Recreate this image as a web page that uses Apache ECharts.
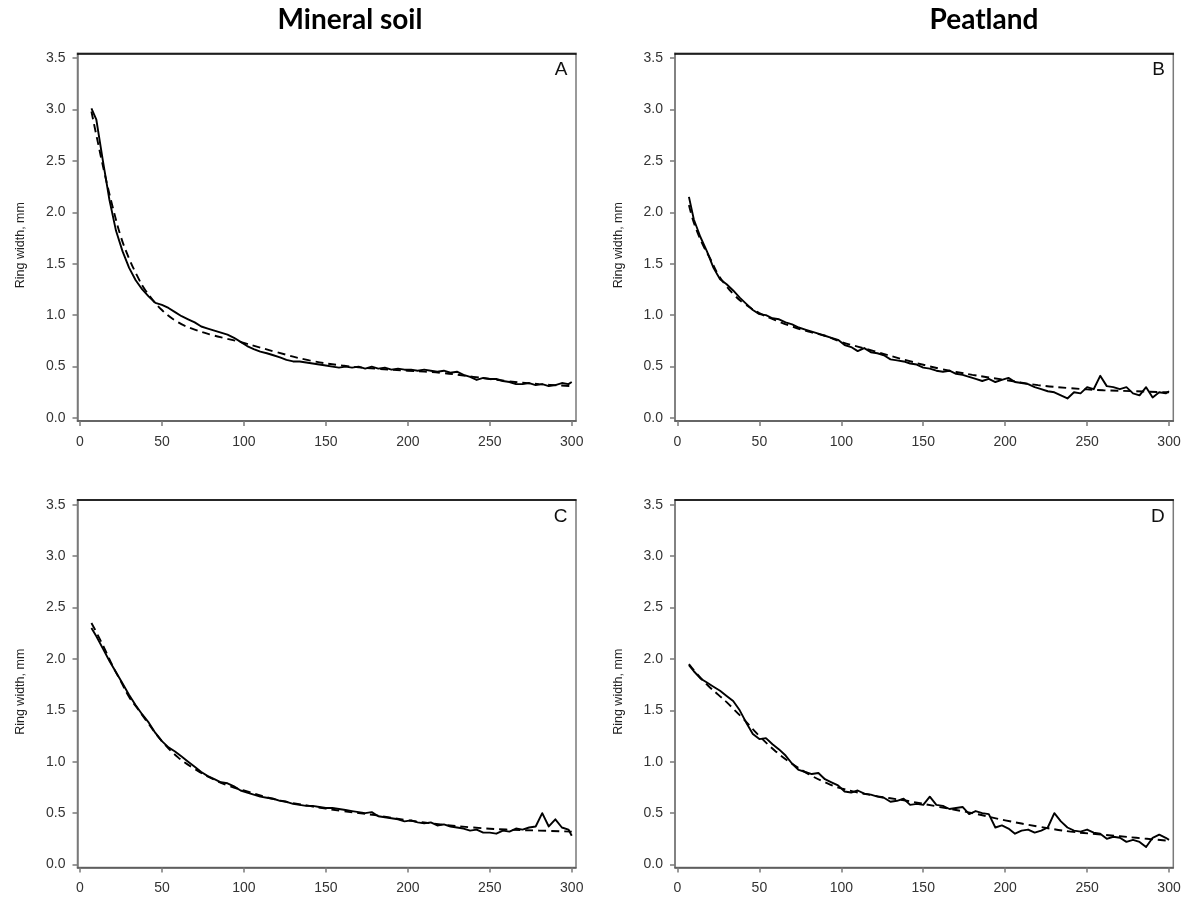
<!DOCTYPE html>
<html>
<head>
<meta charset="utf-8">
<script src="https://cdn.jsdelivr.net/npm/echarts@6/dist/echarts.min.js"></script>
<style>
html,body{margin:0;padding:0;background:#fff;}
#chart{width:1188px;height:897px;}
</style>
</head>
<body>
<div id="chart"></div>
<script>
// ---- data ----
const years = [7,10,14,18,22,26,30,34,38,42,46,50,54,58,62,66,70,74,78,82,86,90,94,98,102,106,110,114,118,122,126,130,134,138,142,146,150,154,158,162,166,170,174,178,182,186,190,194,198,202,206,210,214,218,222,226,230,234,238,242,246,250,254,258,262,266,270,274,278,282,286,290,294,298,300];

const obsA = [3.01,2.90,2.50,2.12,1.82,1.62,1.46,1.34,1.25,1.18,1.12,1.10,1.07,1.03,0.99,0.96,0.93,0.89,0.87,0.85,0.83,0.81,0.78,0.74,0.70,0.67,0.645,0.63,0.61,0.59,0.565,0.55,0.55,0.54,0.53,0.52,0.51,0.50,0.49,0.50,0.49,0.50,0.48,0.50,0.48,0.49,0.47,0.48,0.47,0.47,0.46,0.47,0.46,0.45,0.46,0.44,0.45,0.42,0.40,0.37,0.39,0.38,0.38,0.36,0.35,0.33,0.33,0.34,0.32,0.33,0.31,0.32,0.34,0.33,0.35];

const obsB = [2.15,1.93,1.76,1.62,1.46,1.35,1.30,1.24,1.17,1.11,1.05,1.01,1.00,0.97,0.96,0.93,0.91,0.88,0.86,0.84,0.82,0.80,0.78,0.76,0.71,0.69,0.65,0.68,0.64,0.63,0.61,0.57,0.56,0.55,0.53,0.52,0.49,0.48,0.46,0.45,0.46,0.43,0.42,0.40,0.38,0.36,0.38,0.35,0.37,0.39,0.35,0.34,0.33,0.30,0.28,0.26,0.25,0.22,0.19,0.25,0.24,0.30,0.28,0.41,0.31,0.30,0.28,0.30,0.24,0.22,0.30,0.20,0.25,0.24,0.26];

const obsC = [2.30,2.22,2.10,1.98,1.87,1.76,1.65,1.55,1.46,1.38,1.28,1.20,1.14,1.10,1.05,1.00,0.95,0.90,0.86,0.83,0.80,0.79,0.76,0.72,0.70,0.68,0.66,0.65,0.64,0.62,0.61,0.59,0.58,0.57,0.57,0.56,0.55,0.55,0.54,0.53,0.52,0.51,0.50,0.51,0.47,0.46,0.45,0.44,0.42,0.43,0.41,0.40,0.41,0.38,0.39,0.37,0.36,0.35,0.33,0.34,0.31,0.31,0.30,0.33,0.32,0.35,0.34,0.36,0.37,0.50,0.37,0.44,0.36,0.34,0.28];

const obsD = [1.94,1.88,1.81,1.77,1.73,1.69,1.64,1.59,1.50,1.38,1.27,1.22,1.23,1.17,1.12,1.06,0.98,0.92,0.90,0.88,0.89,0.83,0.80,0.77,0.71,0.70,0.72,0.69,0.68,0.66,0.65,0.61,0.62,0.64,0.58,0.59,0.58,0.66,0.58,0.57,0.54,0.55,0.56,0.49,0.52,0.50,0.49,0.36,0.38,0.35,0.30,0.33,0.34,0.31,0.33,0.36,0.50,0.42,0.36,0.33,0.32,0.34,0.31,0.30,0.25,0.27,0.26,0.22,0.24,0.22,0.17,0.26,0.29,0.26,0.24];

const fitYears = [7,10,15,20,25,30,35,40,50,60,70,80,90,100,120,140,160,180,200,220,240,260,280,300];
const fitA = [2.98,2.75,2.38,2.05,1.76,1.55,1.38,1.24,1.05,0.93,0.86,0.81,0.77,0.73,0.64,0.56,0.51,0.48,0.46,0.44,0.40,0.36,0.33,0.31];
const fitB = [2.07,1.90,1.70,1.55,1.39,1.28,1.19,1.12,1.02,0.95,0.89,0.84,0.80,0.74,0.65,0.56,0.48,0.42,0.37,0.32,0.29,0.27,0.26,0.25];
const fitC = [2.35,2.26,2.10,1.93,1.78,1.63,1.52,1.41,1.20,1.04,0.93,0.84,0.77,0.72,0.63,0.57,0.52,0.48,0.43,0.39,0.36,0.34,0.33,0.32];
const fitD = [1.95,1.89,1.80,1.72,1.65,1.58,1.50,1.42,1.25,1.10,0.98,0.88,0.80,0.74,0.67,0.62,0.56,0.50,0.43,0.37,0.32,0.29,0.26,0.23];

const xTicks = [0,50,100,150,200,250,300];
const yTicks = [0,0.5,1.0,1.5,2.0,2.5,3.0,3.5];
const panelLabels = ['A','B','C','D'];
const columnTitles = ['Mineral soil','Peatland'];
const yAxisName = 'Ring width, mm';

// ---- layout ----
const grids = [
  {left:77.5, top:53.3, width:498.5, height:367.7},
  {left:675,  top:53.3, width:498.3, height:367.7},
  {left:77.5, top:500,  width:498.5, height:367.5},
  {left:675,  top:500,  width:498.3, height:367.5}
];
const obsList = [obsA, obsB, obsC, obsD];
const fitList = [fitA, fitB, fitC, fitD];

const X_MIN = -1.5, X_MAX = 302.6, Y_MIN = -0.029, Y_MAX = 3.546;
const GRAY = '#7a7a7a';
const labelFont = {fontFamily:'Liberation Sans, Arial, sans-serif', fontSize:14, color:'#333'};

const option = {
  animation:false,
  backgroundColor:'#fff',
  grid: grids.map(g => Object.assign({show:true, borderColor:GRAY, borderWidth:1.5, containLabel:false}, g)),
  xAxis: [],
  yAxis: [],
  series: [],
  title: []
};

grids.forEach((g, i) => {
  option.xAxis.push({
    type:'value', gridIndex:i, min:X_MIN, max:X_MAX, position:'bottom',
    splitLine:{show:false},
    axisLine:{show:true, onZero:false, lineStyle:{color:'#555', width:1.5}},
    axisTick:{show:true, length:5, customValues:xTicks, lineStyle:{color:GRAY, width:1.5}},
    axisLabel:Object.assign({show:true, margin:14, customValues:xTicks, formatter:v => String(v)}, labelFont)
  });
  option.xAxis.push({
    type:'value', gridIndex:i, min:X_MIN, max:X_MAX, position:'top',
    splitLine:{show:false},
    axisLine:{show:true, onZero:false, lineStyle:{color:'#000', width:1.5}},
    axisTick:{show:false}, axisLabel:{show:false}
  });
  option.yAxis.push({
    type:'value', gridIndex:i, min:Y_MIN, max:Y_MAX,
    name:yAxisName, nameLocation:'middle', nameGap:50,
    nameTextStyle:{fontFamily:'Liberation Sans, Arial, sans-serif', fontSize:12.5, color:'#222', padding:[0,16,0,0]},
    splitLine:{show:false},
    axisLine:{show:true, onZero:false, lineStyle:{color:GRAY, width:1.5}},
    axisTick:{show:true, length:5, customValues:yTicks, lineStyle:{color:GRAY, width:1.5}},
    axisLabel:Object.assign({show:true, margin:12, customValues:yTicks, formatter:v => v.toFixed(1)}, labelFont)
  });
  option.series.push({
    type:'line', xAxisIndex:2*i, yAxisIndex:i,
    data: years.map((x, k) => [x, obsList[i][k]]),
    showSymbol:false, symbol:'none', smooth:false,
    lineStyle:{color:'#000', width:1.9, join:'round'},
    z:3
  });
  option.series.push({
    type:'line', xAxisIndex:2*i, yAxisIndex:i,
    data: fitYears.map((x, k) => [x, fitList[i][k]]),
    showSymbol:false, symbol:'none', smooth:0.4,
    lineStyle:{color:'#000', width:1.9, type:[8,5]},
    z:2
  });
  option.title.push({
    text: panelLabels[i],
    right: 1188 - (g.left + g.width - 8.5),
    top: g.top + 7,
    padding:0,
    textStyle:{fontFamily:'Liberation Sans, Arial, sans-serif', fontSize:19, fontWeight:'normal', color:'#111'}
  });
});

columnTitles.forEach((t, c) => {
  option.title.push({
    text:t,
    left: c === 0 ? 350 : 984,
    textAlign:'center',
    top:6,
    padding:0,
    textStyle:{fontFamily:'Lato, Noto Sans, sans-serif', fontSize:28, fontWeight:'bold', color:'#000'}
  });
});

const chart = echarts.init(document.getElementById('chart'), null, {renderer:'canvas'});
chart.setOption(option);
</script>
</body>
</html>
